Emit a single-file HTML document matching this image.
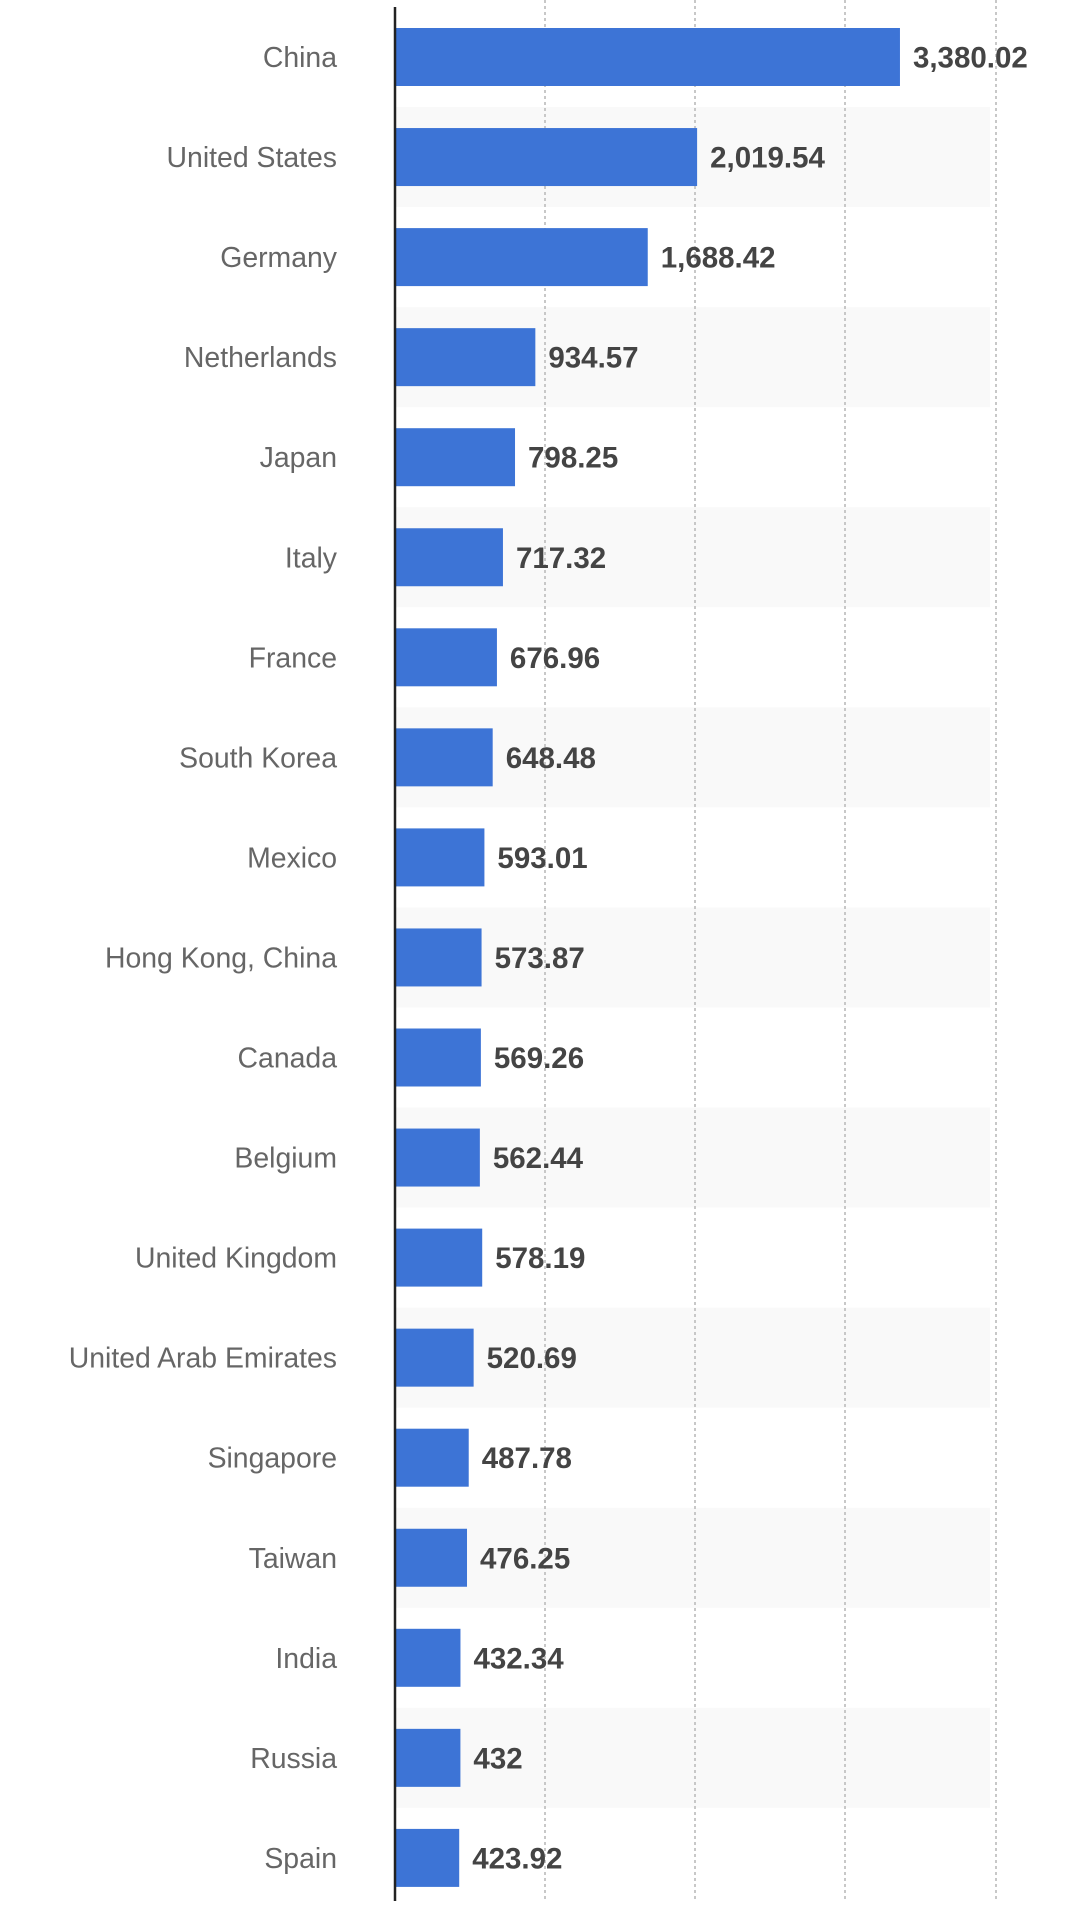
<!DOCTYPE html>
<html><head><meta charset="utf-8"><style>
html,body{margin:0;padding:0;background:#fff;}
</style></head><body>
<svg width="1079" height="1901" xmlns="http://www.w3.org/2000/svg">
<g id="bands"></g>
<g id="grid" stroke="#c8c8c8" stroke-width="2" stroke-dasharray="3,3">
<line x1="545" y1="0" x2="545" y2="1901"/>
<line x1="695" y1="0" x2="695" y2="1901"/>
<line x1="845" y1="0" x2="845" y2="1901"/>
<line x1="996" y1="0" x2="996" y2="1901"/>
</g>
<g id="bars"></g>
<line x1="395" y1="7" x2="395" y2="1901" stroke="#222" stroke-width="2.5"/>
</svg>
<script>
var d=[["China",3380.02,"3,380.02"],["United States",2019.54,"2,019.54"],["Germany",1688.42,"1,688.42"],["Netherlands",934.57,"934.57"],["Japan",798.25,"798.25"],["Italy",717.32,"717.32"],["France",676.96,"676.96"],["South Korea",648.48,"648.48"],["Mexico",593.01,"593.01"],["Hong Kong, China",573.87,"573.87"],["Canada",569.26,"569.26"],["Belgium",562.44,"562.44"],["United Kingdom",578.19,"578.19"],["United Arab Emirates",520.69,"520.69"],["Singapore",487.78,"487.78"],["Taiwan",476.25,"476.25"],["India",432.34,"432.34"],["Russia",432,"432"],["Spain",423.92,"423.92"]];
var ns="http://www.w3.org/2000/svg",b=document.getElementById("bands"),g=document.getElementById("bars"),svg=document.querySelector("svg");
function el(t,a,p){var e=document.createElementNS(ns,t);for(var k in a)e.setAttribute(k,a[k]);p.appendChild(e);return e;}
d.forEach(function(r,i){
 var c=57+i*100.05;
 if(i%2==1) el("rect",{x:396,y:c-50,width:594,height:100,fill:"#f9f9f9"},b);
 var w=r[1]*0.1491;
 el("rect",{x:396,y:c-29,width:w,height:58,fill:"#3d74d6"},g);
 var t=el("text",{x:337,y:c+10,"text-anchor":"end","font-family":"Liberation Sans, sans-serif","font-size":28.4,fill:"#666"},svg);t.textContent=r[0];
 var v=el("text",{x:396+w+13,y:c+10.5,"font-family":"Liberation Sans, sans-serif","font-size":29.5,"font-weight":"bold",fill:"#444"},svg);v.textContent=r[2];
});
</script>
</body></html>
